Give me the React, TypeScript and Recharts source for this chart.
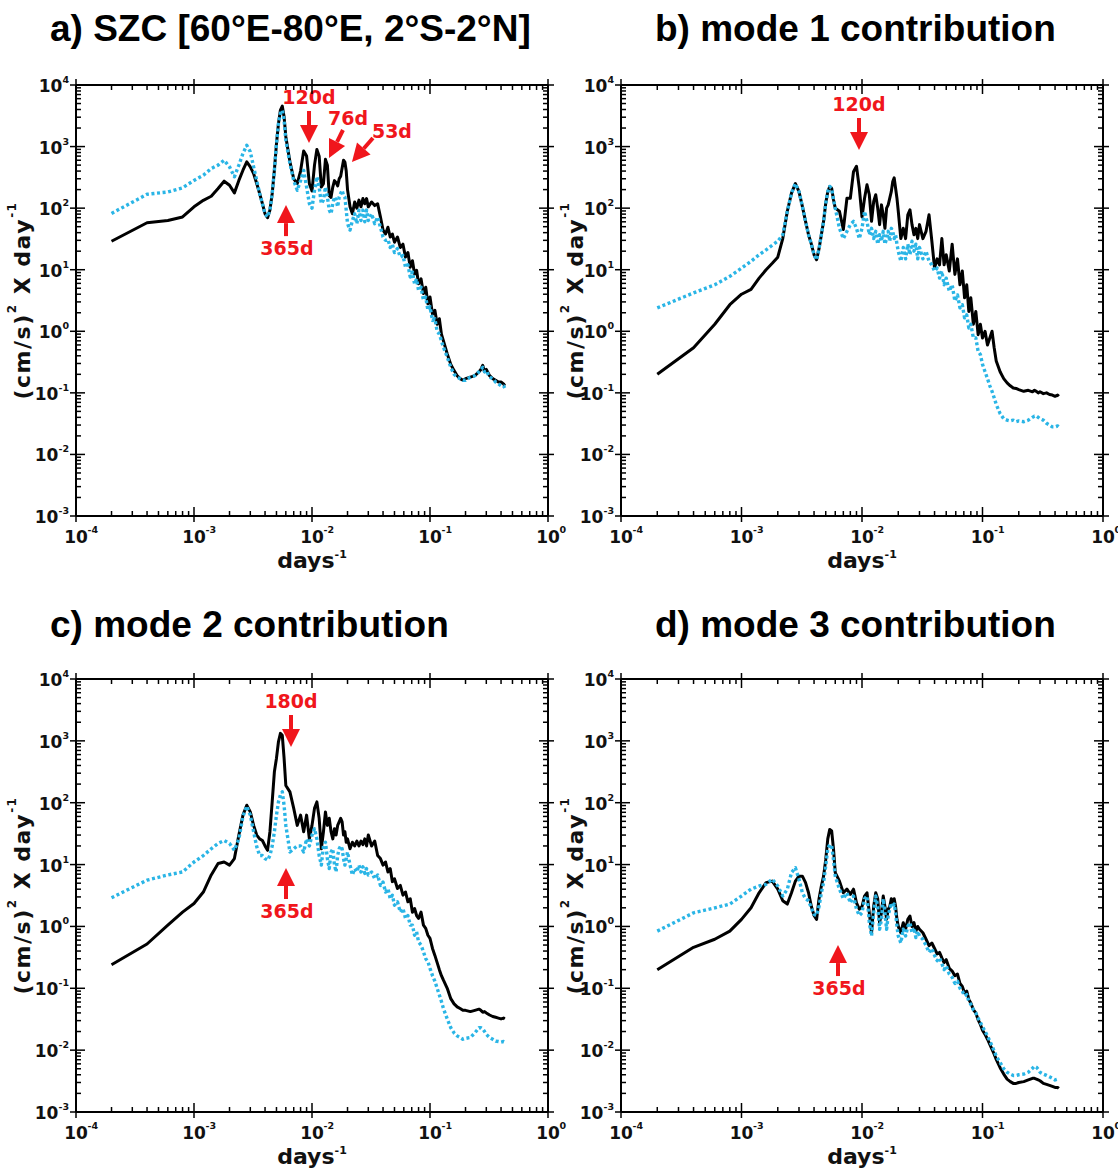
import React from 'react'
import { LineChart, Line, XAxis, YAxis, ReferenceDot } from 'recharts'

// frequency grid (days^-1), shared by all four panels
const FREQ = [
  0.0002, 0.0004, 0.0006, 0.0008, 0.001, 0.0012, 0.0014, 0.0016, 0.0018, 0.002, 0.0022, 0.0024, 0.0026, 0.0028, 0.003, 0.0032, 0.0034, 0.0036, 0.0038, 0.004, 0.0042, 0.0044, 0.0046, 0.0048, 0.005, 0.0052, 0.0054, 0.0056, 0.0058, 0.006,
  0.0065, 0.007, 0.0075, 0.008, 0.0085, 0.009, 0.0095, 0.01, 0.0105, 0.011, 0.0115, 0.012, 0.0125, 0.013, 0.0135, 0.014, 0.0145, 0.015, 0.0155, 0.016, 0.0165, 0.017, 0.0175, 0.018, 0.0185, 0.019, 0.0195, 0.02,
  0.021, 0.022, 0.023, 0.024, 0.025, 0.026, 0.027, 0.028, 0.029, 0.03, 0.032, 0.034, 0.036, 0.038, 0.04, 0.042, 0.044, 0.046, 0.048, 0.05, 0.053, 0.056, 0.059, 0.062, 0.065, 0.068, 0.071, 0.074, 0.077, 0.08, 0.084, 0.088, 0.092, 0.096, 0.1,
  0.105, 0.11, 0.115, 0.12, 0.125, 0.13, 0.14, 0.15, 0.16, 0.17, 0.18, 0.19, 0.2, 0.22, 0.24, 0.26, 0.27, 0.28, 0.29, 0.3, 0.32, 0.34, 0.36, 0.38, 0.4, 0.42, 0.43,
]

// a) SZC
const aSolid = [
  29, 58, 63, 72, 105, 134, 156, 208, 274, 235, 177, 282, 413, 565, 468, 363, 251, 173, 118, 81, 70, 93, 173, 413, 1120, 2380, 3920, 4550, 3050, 1445,
  565, 300, 250, 400, 850, 700, 250, 190, 500, 900, 700, 220, 250, 620, 500, 160, 150, 220, 280, 260, 230, 300, 330, 450, 600, 560, 400, 200,
  105, 81, 126, 100, 135, 105, 143, 118, 143, 105, 126, 110, 118, 72, 44, 38, 49, 34, 38, 28, 34, 23, 26, 16, 19, 11, 14, 8.5, 9.8, 5.9, 7.1, 4.1, 5.2, 2.8, 3.6,
  1.9, 2.2, 1.3, 1.6, 0.9, 0.7, 0.43, 0.29, 0.23, 0.19, 0.17, 0.16, 0.17, 0.18, 0.19, 0.22, 0.24, 0.28, 0.22, 0.24, 0.19, 0.17, 0.16, 0.15, 0.15, 0.14, 0.13,
]
const aDotted = [
  82, 168, 183, 214, 282, 343, 440, 500, 600, 468, 323, 500, 775, 1050, 822, 468, 282, 173, 118, 81, 72, 93, 173, 413, 1120, 2380, 3450, 3900, 2700, 1270,
  530, 280, 195, 280, 410, 220, 118, 100, 195, 323, 220, 118, 135, 220, 152, 93, 81, 118, 152, 135, 105, 152, 173, 195, 162, 152, 93, 56,
  44, 63, 81, 56, 93, 63, 93, 60, 93, 63, 81, 56, 72, 49, 34, 30, 31, 23, 26, 19, 22, 16, 17, 11, 12, 7.6, 9.2, 5.9, 7.1, 4.6, 5.2, 3.2, 3.6, 2.2, 2.5,
  1.5, 1.6, 1.0, 0.9, 0.7, 0.55, 0.38, 0.26, 0.2, 0.18, 0.17, 0.16, 0.16, 0.18, 0.19, 0.22, 0.24, 0.26, 0.22, 0.23, 0.18, 0.17, 0.15, 0.14, 0.13, 0.13, 0.12,
]

// b) mode 1
const bSolid = [
  0.2, 0.54, 1.3, 2.7, 4.0, 4.8, 7.3, 10, 12.7, 16, 32, 89, 175, 250, 185, 107, 61, 37, 26, 17.5, 14.5, 22, 37, 61, 120, 185, 225, 210, 137, 100,
  89, 45, 145, 145, 390, 480, 210, 72, 145, 240, 165, 61, 128, 165, 100, 54, 113, 78, 47, 100, 113, 145, 185, 270, 310, 210, 145, 89,
  32, 47, 32, 78, 94, 54, 37, 47, 32, 54, 32, 42, 78, 29, 10.6, 15, 12, 32, 12, 17.5, 9.5, 26, 8.4, 15, 5.7, 9.5, 3.5, 5.7, 2.1, 3.5, 1.3, 2.1, 0.88, 1.3, 0.78,
  1.0, 0.6, 0.78, 1.0, 0.54, 0.33, 0.22, 0.17, 0.145, 0.13, 0.12, 0.118, 0.113, 0.106, 0.11, 0.104, 0.11, 0.106, 0.1, 0.104, 0.097, 0.1, 0.094, 0.092, 0.088, 0.092, 0.088,
]
const bDotted = [
  2.4, 4.2, 5.7, 7.8, 10.6, 13.7, 17.5, 21, 25, 29, 37, 89, 175, 250, 185, 107, 61, 37, 26, 17.5, 14.5, 22, 37, 61, 120, 185, 225, 210, 137, 100,
  47, 32, 42, 54, 61, 47, 32, 47, 89, 61, 37, 47, 32, 42, 26, 37, 29, 42, 26, 32, 42, 29, 47, 42, 32, 37, 26, 20,
  13.7, 23, 15, 26, 17.5, 29, 20, 26, 15, 23, 15, 20, 13.7, 12, 9.5, 10.6, 7.3, 9.5, 5.7, 7.3, 4.5, 5.7, 3.1, 3.9, 2.4, 2.7, 1.65, 1.85, 1.13, 1.3, 0.78, 0.78, 0.47, 0.42, 0.29,
  0.22, 0.17, 0.13, 0.106, 0.083, 0.065, 0.046, 0.038, 0.036, 0.035, 0.036, 0.034, 0.035, 0.034, 0.036, 0.04, 0.042, 0.042, 0.04, 0.038, 0.036, 0.032, 0.03, 0.028, 0.028, 0.029, 0.028,
]

// c) mode 2
const cSolid = [
  0.24, 0.52, 1.05, 1.7, 2.35, 3.6, 6.8, 10.4, 11, 9.8, 12.5, 30, 63, 91, 71, 43, 30, 26, 24.5, 20, 17, 34, 104, 316, 525, 975, 1320, 1230, 525, 190,
  150, 81, 43, 63, 34, 63, 26, 43, 81, 103, 56, 18, 34, 71, 43, 56, 34, 26, 38, 30, 43, 49, 56, 49, 30, 34, 23, 26,
  18, 23, 20, 24, 20, 24, 21, 26, 20, 30, 20, 24, 14, 12.5, 9.8, 11, 7.6, 8.6, 5.3, 5.9, 4.1, 4.6, 3.2, 3.6, 2.5, 2.8, 1.7, 1.95, 1.5, 1.35, 1.7, 1.05, 0.93, 0.72, 0.64,
  0.44, 0.34, 0.26, 0.2, 0.16, 0.135, 0.1, 0.068, 0.056, 0.05, 0.047, 0.044, 0.044, 0.042, 0.044, 0.046, 0.044, 0.041, 0.042, 0.04, 0.037, 0.035, 0.034, 0.033, 0.032, 0.033, 0.032,
]
const cDotted = [
  2.9, 5.6, 6.8, 7.6, 11, 14, 18, 22, 24.5, 22, 17, 26, 60, 88, 63, 34, 19.5, 14, 14, 12.5, 11.8, 14, 20, 34, 63, 104, 134, 150, 91, 43,
  16, 18, 20, 20, 16, 26, 20, 30, 38, 26, 14, 9.8, 20, 23, 12.5, 8.6, 16, 18, 9.8, 7.6, 14, 18, 20, 18, 12.5, 9.8, 12.5, 16,
  9.8, 6.8, 8.6, 7.6, 9.8, 7.6, 9.2, 7.2, 8.6, 6.8, 7.6, 5.9, 6.8, 4.6, 5.2, 3.6, 4.1, 2.8, 3.2, 2.2, 2.5, 1.7, 1.95, 1.35, 1.5, 1.05, 1.05, 0.72, 0.82, 0.56, 0.5, 0.39, 0.3, 0.27, 0.21,
  0.16, 0.13, 0.1, 0.078, 0.061, 0.047, 0.032, 0.023, 0.019, 0.017, 0.016, 0.015, 0.0155, 0.016, 0.019, 0.023, 0.023, 0.022, 0.02, 0.018, 0.016, 0.015, 0.014, 0.0138, 0.0135, 0.0138, 0.0135,
]

// d) mode 3
const dSolid = [
  0.2, 0.46, 0.62, 0.84, 1.3, 2.0, 3.5, 5.1, 5.4, 4.0, 2.6, 2.3, 3.5, 5.4, 6.5, 6.5, 5.1, 3.5, 2.1, 1.5, 1.3, 2.8, 4.5, 6.5, 12, 26, 37, 35, 18, 7.4,
  5.4, 3.5, 4.0, 3.3, 4.0, 2.4, 1.9, 2.1, 3.1, 3.5, 1.66, 0.79, 2.1, 3.5, 2.8, 1.15, 1.66, 3.1, 2.1, 1.3, 1.9, 2.1, 2.8, 2.4, 2.8, 2.1, 1.3, 1.0,
  0.79, 1.15, 0.9, 1.3, 1.47, 1.0, 1.15, 0.84, 1.0, 0.9, 0.79, 0.62, 0.49, 0.54, 0.44, 0.36, 0.38, 0.31, 0.26, 0.29, 0.21, 0.19, 0.16, 0.17, 0.12, 0.107, 0.084, 0.09, 0.066, 0.058, 0.045, 0.04, 0.031, 0.026, 0.021,
  0.018, 0.015, 0.0124, 0.0103, 0.0086, 0.0071, 0.0052, 0.0041, 0.0034, 0.0031, 0.0029, 0.0029, 0.003, 0.0031, 0.0033, 0.0035, 0.0035, 0.0034, 0.0033, 0.0032, 0.0029, 0.0028, 0.0027, 0.0026, 0.0025, 0.0025, 0.0024,
]
const dDotted = [
  0.84, 1.66, 2.0, 2.3, 3.1, 4.0, 4.5, 4.8, 5.8, 4.5, 3.1, 4.0, 7.4, 8.9, 5.8, 3.5, 2.8, 2.6, 2.0, 1.56, 1.5, 2.1, 3.5, 5.1, 9.5, 18, 21, 20, 12, 6.5,
  4.0, 2.8, 3.5, 2.4, 3.1, 1.9, 1.5, 1.66, 2.8, 3.1, 1.15, 0.7, 1.66, 3.1, 2.1, 0.9, 1.3, 2.8, 1.66, 0.9, 1.5, 1.9, 2.4, 2.0, 2.3, 1.66, 1.0, 0.7,
  0.54, 0.9, 0.7, 1.0, 1.15, 0.79, 0.95, 0.66, 0.84, 0.7, 0.62, 0.49, 0.38, 0.44, 0.34, 0.28, 0.31, 0.25, 0.2, 0.23, 0.17, 0.15, 0.12, 0.13, 0.1, 0.09, 0.075, 0.079, 0.062, 0.055, 0.045, 0.04, 0.033, 0.028, 0.024,
  0.02, 0.017, 0.014, 0.0117, 0.0097, 0.008, 0.0063, 0.005, 0.0044, 0.0041, 0.0039, 0.0039, 0.004, 0.0041, 0.0044, 0.0051, 0.0055, 0.0053, 0.0049, 0.0044, 0.0041, 0.0039, 0.0037, 0.0035, 0.0033, 0.0034, 0.0033,
]

// annotations: arrow tip in data coordinates
const aNotes = [
  { label: '120d', f: 0.00943, v: 1143, kind: 'down' },
  { label: '76d', f: 0.01393, v: 652, kind: 'diag76' },
  { label: '53d', f: 0.0218, v: 561, kind: 'diag53' },
  { label: '365d', f: 0.00602, v: 112, kind: 'up' },
]
const bNotes = [{ label: '120d', f: 0.00944, v: 880, kind: 'down' }]
const cNotes = [
  { label: '180d', f: 0.00664, v: 796, kind: 'down' },
  { label: '365d', f: 0.00602, v: 8.8, kind: 'up' },
]
const dNotes = [{ label: '365d', f: 0.00632, v: 0.5, kind: 'up' }]

const TITLES = ['a) SZC [60°E-80°E, 2°S-2°N]', 'b) mode 1 contribution', 'c) mode 2 contribution', 'd) mode 3 contribution']
const X_EXPONENTS = [-4, -3, -2, -1, 0]
const Y_EXPONENTS = [-3, -2, -1, 0, 1, 2, 3, 4]

const RED = '#f0161c'
const CYAN = '#2ab5e6'
const LABEL_FONT = '"DejaVu Sans", Verdana, sans-serif'
const TITLE_FONT = '"Liberation Sans", Arial, sans-serif'

// 1..9 x 10^n ticks between the first and last exponent
function logTicks(exps: number[]) {
  const out: number[] = []
  exps.forEach((e, i) => {
    const base = Math.pow(10, e)
    if (i === exps.length - 1) out.push(base)
    else for (let m = 1; m <= 9; m++) out.push(m * base)
  })
  return out
}
const X_TICKS = logTicks(X_EXPONENTS)
const Y_TICKS = logTicks(Y_EXPONENTS)

const expOf = (v: number) => Math.round(Math.log10(v))
const isMajor = (v: number) => Math.abs(Math.log10(v) - expOf(v)) < 1e-6

const ARROWS: Record<string, { tail: number[]; text: number[] }> = {
  down: { tail: [0, -32], text: [0, -39] },
  up: { tail: [0, 31], text: [1, 50] },
  diag76: { tail: [14, -28], text: [19, -33] },
  diag53: { tail: [21, -24], text: [40, -24] },
}

function Arrow({ cx, cy, note }: any) {
  const st = ARROWS[note.kind]
  const [tx, ty] = st.tail
  const len = Math.hypot(tx, ty)
  const ux = tx / len
  const uy = ty / len
  const bx = cx + ux * 18
  const by = cy + uy * 18
  const px = -uy * 9
  const py = ux * 9
  return (
    <g>
      <line x1={bx} y1={by} x2={cx + tx} y2={cy + ty} stroke={RED} strokeWidth={4} />
      <polygon points={`${cx},${cy} ${bx + px},${by + py} ${bx - px},${by - py}`} fill={RED} />
      <text x={cx + st.text[0]} y={cy + st.text[1]} textAnchor="middle" fontFamily={LABEL_FONT} fontWeight="bold" fontSize={19} fill={RED}>
        {note.label}
      </text>
    </g>
  )
}

function BottomTick({ x, y, payload }: any) {
  const v = payload.value
  const major = isMajor(v)
  return (
    <g>
      <line x1={x} x2={x} y1={y + (major ? 6 : 0)} y2={y - (major ? 9 : 5)} stroke="#000" strokeWidth={1.5} />
      {major && (
        <>
          <text x={x} y={y + 27} textAnchor="middle" fontFamily={LABEL_FONT} fontWeight="bold" fontSize={17} fill="#111">10</text>
          <text x={x + 11.5} y={y + 17} textAnchor="start" fontFamily={LABEL_FONT} fontWeight="bold" fontSize={9.5} fill="#111">{expOf(v)}</text>
        </>
      )}
    </g>
  )
}

function TopTick({ x, y, payload }: any) {
  const major = isMajor(payload.value)
  return <line x1={x} x2={x} y1={y - (major ? 6 : 0)} y2={y + (major ? 9 : 5)} stroke="#000" strokeWidth={1.5} />
}

function LeftTick({ x, y, payload }: any) {
  const v = payload.value
  const major = isMajor(v)
  return (
    <g>
      <line x1={x - (major ? 6 : 0)} x2={x + (major ? 9 : 5)} y1={y} y2={y} stroke="#000" strokeWidth={1.5} />
      {major && (
        <text x={x - 7} y={y + 7} textAnchor="end" fontFamily={LABEL_FONT} fontWeight="bold" fontSize={17} fill="#111">
          10<tspan dy={-9} fontSize={9.5}>{expOf(v)}</tspan>
        </text>
      )}
    </g>
  )
}

function RightTick({ x, y, payload }: any) {
  const major = isMajor(payload.value)
  return <line x1={x + (major ? 6 : 0)} x2={x - (major ? 9 : 5)} y1={y} y2={y} stroke="#000" strokeWidth={1.5} />
}

const PANELS = [
  { left: 0, top: 70, width: 560, height: 530, axes: { left: 76, right: 12, top: 15, bottom: 84 }, yGap: 54, solid: aSolid, dotted: aDotted, notes: aNotes },
  { left: 560, top: 70, width: 558, height: 530, axes: { left: 61, right: 15, top: 15, bottom: 84 }, yGap: 46, solid: bSolid, dotted: bDotted, notes: bNotes },
  { left: 0, top: 665, width: 560, height: 508, axes: { left: 76, right: 12, top: 14, bottom: 61 }, yGap: 54, solid: cSolid, dotted: cDotted, notes: cNotes },
  { left: 560, top: 665, width: 558, height: 508, axes: { left: 61, right: 15, top: 14, bottom: 61 }, yGap: 46, solid: dSolid, dotted: dDotted, notes: dNotes },
]

const TITLE_POS = [
  { x: 50, y: 41 },
  { x: 655, y: 41 },
  { x: 50, y: 637 },
  { x: 655, y: 637 },
]

const axisLine = { stroke: '#000', strokeWidth: 2 }

function Panel({ p }: any) {
  const rows = FREQ.map((f, i) => ({ f, solid: p.solid[i], dotted: p.dotted[i] }))
  const plotW = p.width - p.axes.left - p.axes.right
  const plotH = p.height - p.axes.top - p.axes.bottom
  const plotBottom = p.axes.top + plotH
  const cxLabel = p.axes.left + plotW / 2
  const yLabelX = p.axes.left - p.yGap
  const yLabelY = p.axes.top + plotH / 2

  return (
    <div style={{ position: 'absolute', left: p.left, top: p.top }}>
      <LineChart width={p.width} height={p.height} data={rows} margin={{ top: 0, right: 0, bottom: 0, left: 0 }}>
        <XAxis
          dataKey="f"
          type="number"
          scale="log"
          domain={[1e-4, 1]}
          allowDataOverflow
          ticks={X_TICKS}
          interval={0}
          tickSize={0}
          tickMargin={0}
          height={p.axes.bottom}
          axisLine={axisLine}
          tickLine={false}
          tick={BottomTick}
          label={{
            content: () => (
              <text x={cxLabel} y={plotBottom + 52} textAnchor="middle" fontFamily={LABEL_FONT} fontWeight="bold" fontSize={22} fill="#111">
                days<tspan dy={-10} fontSize={11}>-1</tspan>
              </text>
            ),
          }}
        />
        <XAxis
          xAxisId="top"
          orientation="top"
          dataKey="f"
          type="number"
          scale="log"
          domain={[1e-4, 1]}
          allowDataOverflow
          ticks={X_TICKS}
          interval={0}
          tickSize={0}
          tickMargin={0}
          height={p.axes.top}
          axisLine={axisLine}
          tickLine={false}
          tick={TopTick}
        />
        <YAxis
          type="number"
          scale="log"
          domain={[1e-3, 1e4]}
          allowDataOverflow
          ticks={Y_TICKS}
          interval={0}
          tickSize={0}
          tickMargin={0}
          width={p.axes.left}
          axisLine={axisLine}
          tickLine={false}
          tick={LeftTick}
          label={{
            content: () => (
              <text
                x={yLabelX}
                y={yLabelY}
                transform={`rotate(-90, ${yLabelX}, ${yLabelY})`}
                textAnchor="middle"
                dominantBaseline="central"
                fontFamily={LABEL_FONT}
                fontWeight="bold"
                fontSize={22}
                letterSpacing={1.5}
                fill="#111"
              >
                (cm/s)<tspan dy={-10} fontSize={12}>2</tspan>
                <tspan dy={10}> X day</tspan>
                <tspan dy={-10} fontSize={12}>-1</tspan>
              </text>
            ),
          }}
        />
        <YAxis
          yAxisId="right"
          orientation="right"
          type="number"
          scale="log"
          domain={[1e-3, 1e4]}
          allowDataOverflow
          ticks={Y_TICKS}
          interval={0}
          tickSize={0}
          tickMargin={0}
          width={p.axes.right}
          axisLine={axisLine}
          tickLine={false}
          tick={RightTick}
        />
        <Line
          type="linear"
          dataKey="solid"
          stroke="#000"
          strokeWidth={3}
          strokeLinejoin="round"
          dot={false}
          isAnimationActive={false}
        />
        <Line
          type="linear"
          dataKey="dotted"
          stroke={CYAN}
          strokeWidth={3.4}
          strokeDasharray="3 2.6"
          strokeLinejoin="round"
          dot={false}
          isAnimationActive={false}
        />
        {p.notes.map((n: any) => (
          <ReferenceDot
            key={n.label + n.f}
            x={n.f}
            y={n.v}
            r={0}
            ifOverflow="visible"
            shape={(props: any) => <Arrow cx={props.cx} cy={props.cy} note={n} />}
          />
        ))}
      </LineChart>
    </div>
  )
}

export default function App() {
  return (
    <div style={{ position: 'absolute', left: 0, top: 0, width: 1118, height: 1173, background: '#fff', overflow: 'hidden' }}>
      <style>{'.recharts-surface { overflow: visible; }'}</style>
      <svg width={1118} height={1173} style={{ position: 'absolute', left: 0, top: 0 }}>
        {TITLES.map((t, i) => (
          <text key={t} x={TITLE_POS[i].x} y={TITLE_POS[i].y} fontFamily={TITLE_FONT} fontWeight="bold" fontSize={37} fill="#000">
            {t}
          </text>
        ))}
      </svg>
      {PANELS.map((p, i) => (
        <Panel key={i} p={p} />
      ))}
    </div>
  )
}
